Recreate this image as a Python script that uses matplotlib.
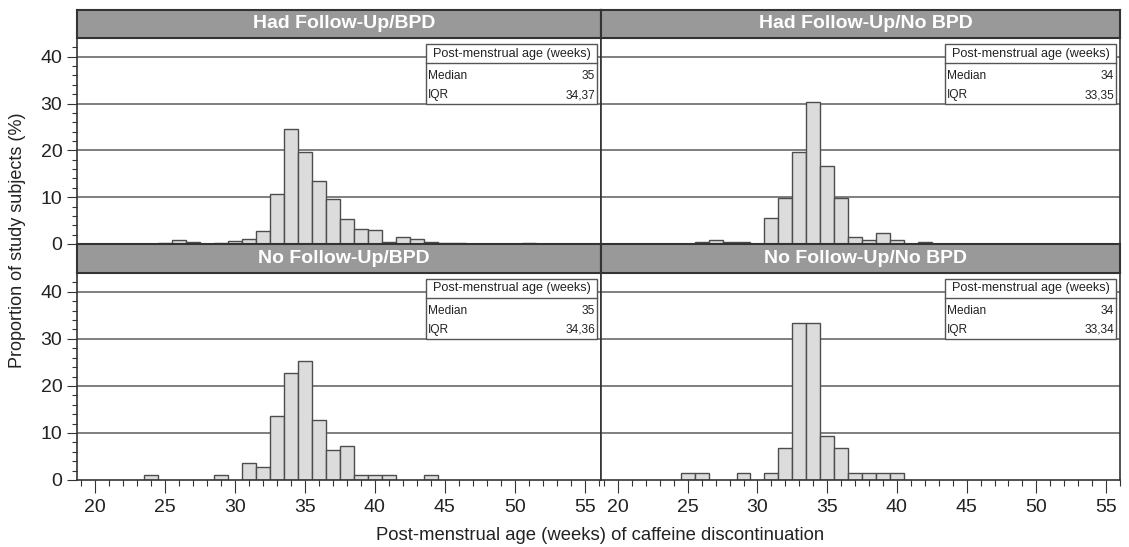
#recreates the caffeine discontinuation histograms (4 panels)

import matplotlib
matplotlib.use('Agg')
import numpy as np
from matplotlib import pyplot as plt
from matplotlib.patches import Rectangle

plt.rcParams['font.family'] = ['Liberation Sans', 'DejaVu Sans']

# data: % of subjects per week of post-menstrual age
weeks = np.arange(24, 52)
had_fu_bpd = [0, 0.2, 0.8, 0.5, 0, 0.2, 0.7, 1.0, 2.8, 10.6, 24.5, 19.6, 13.5, 9.6,
              5.3, 3.3, 3.0, 0.5, 1.6, 1.0, 0.5, 0.2, 0.2, 0, 0, 0, 0, 0.2]
had_fu_no_bpd = [0, 0, 0.5, 0.9, 0.5, 0.5, 0, 5.6, 9.9, 19.6, 30.3, 16.7, 9.9, 1.4,
                 0.9, 2.3, 0.9, 0, 0.5, 0, 0, 0, 0, 0, 0, 0, 0, 0]
no_fu_bpd = [1.0, 0, 0, 0, 0, 1.0, 0, 3.7, 2.8, 13.6, 22.7, 25.4, 12.7, 6.3,
             7.3, 1.0, 1.0, 1.0, 0, 0, 1.0, 0, 0, 0, 0, 0, 0, 0]
no_fu_no_bpd = [0, 1.4, 1.4, 0, 0, 1.4, 0, 1.4, 6.7, 33.4, 33.4, 9.4, 6.7, 1.4,
                1.4, 1.4, 1.4, 0, 0, 0, 0, 0, 0, 0, 0, 0, 0, 0]

titles = ['Had Follow-Up/BPD', 'Had Follow-Up/No BPD', 'No Follow-Up/BPD', 'No Follow-Up/No BPD']
medians = ['35', '34', '35', '34']
iqrs = ['34,37', '33,35', '34,36', '33,34']

W, H = 1129, 547


def box(x0, y0, x1, y1):
    # pixel box (top-left origin) -> figure fraction rect
    return [x0 / W, 1 - y1 / H, (x1 - x0) / W, (y1 - y0) / H]


panels = [(77, 38, 601, 244), (601, 38, 1120, 244), (77, 273, 601, 480), (601, 273, 1120, 480)]
strips = [(77, 10, 601, 38), (601, 10, 1120, 38), (77, 244, 601, 273), (601, 244, 1120, 273)]
xlims = [(18.74, 56.14), (18.78, 55.71), (18.74, 56.14), (18.78, 55.71)]
series = [had_fu_bpd, had_fu_no_bpd, no_fu_bpd, no_fu_no_bpd]

fig = plt.figure(figsize=(11.29, 5.47), dpi=100)

for i in range(4):
    px0, py0, px1, py1 = panels[i]
    ax = fig.add_axes(box(*panels[i]))
    vals = np.array(series[i])
    keep = vals > 0
    ax.bar(weeks[keep], vals[keep], width=1.0, color='#dcdcdc', edgecolor='#4d4d4d',
           linewidth=1.0, zorder=2)
    ax.set_xlim(*xlims[i])
    ax.set_ylim(0, 44)
    for g in [10, 20, 30, 40]:
        ax.axhline(g, color='#6a6a6a', linewidth=1.2, zorder=1)
    for s in ax.spines.values():
        s.set_color('#333333')
        s.set_linewidth(1.2)

    left = i % 2 == 0
    bottom = i >= 2
    ax.set_yticks([0, 10, 20, 30, 40])
    ax.set_yticks(np.arange(0, 44, 2), minor=True)
    ax.set_xticks(np.arange(20, 56, 5))
    ax.set_xticks(np.arange(19, 57), minor=True)
    ax.tick_params(axis='y', which='major', direction='out', length=7.5, width=0.8,
                   colors='#333333', labelsize=14, pad=3, labelcolor='#222222',
                   left=left, labelleft=left)
    ax.tick_params(axis='y', which='minor', direction='out', length=3.8, width=0.8,
                   colors='#333333', left=left)
    ax.tick_params(axis='x', which='major', direction='out', length=9, width=0.8,
                   colors='#333333', labelsize=14, pad=5, labelcolor='#222222',
                   bottom=bottom, labelbottom=bottom)
    ax.tick_params(axis='x', which='minor', direction='out', length=4.5, width=0.8,
                   colors='#333333', bottom=bottom)

    # median / IQR box in the upper right
    pw, ph = px1 - px0, py1 - py0
    tr = 1 - 4 / pw
    tl = tr - 171 / pw
    tt = 1 - 6 / ph
    tm = tt - 19 / ph
    tb = tt - 60 / ph
    ax.add_patch(Rectangle((tl, tb), tr - tl, tt - tb, transform=ax.transAxes,
                           facecolor='white', edgecolor='#555555', linewidth=1.0, zorder=5))
    ax.plot([tl, tr], [tm, tm], transform=ax.transAxes, color='#555555', linewidth=1.0, zorder=6)
    ax.text((tl + tr) / 2, (tt + tm) / 2, 'Post-menstrual age (weeks)', transform=ax.transAxes,
            ha='center', va='center', fontsize=9.1, color='#222222', zorder=7)
    r1 = tm - 13 / ph
    r2 = tm - 32 / ph
    ax.text(tl + 2 / pw, r1, 'Median', transform=ax.transAxes, ha='left', va='center',
            fontsize=8.6, color='#222222', zorder=7)
    ax.text(tr - 2 / pw, r1, medians[i], transform=ax.transAxes, ha='right', va='center',
            fontsize=8.6, color='#222222', zorder=7)
    ax.text(tl + 2 / pw, r2, 'IQR', transform=ax.transAxes, ha='left', va='center',
            fontsize=8.6, color='#222222', zorder=7)
    ax.text(tr - 2 / pw, r2, iqrs[i], transform=ax.transAxes, ha='right', va='center',
            fontsize=8.6, color='#222222', zorder=7)

    # strip header
    sax = fig.add_axes(box(*strips[i]))
    sax.set_facecolor('#999999')
    sax.set_xticks([])
    sax.set_yticks([])
    for s in sax.spines.values():
        s.set_color('#333333')
        s.set_linewidth(1.5)
    sax.text(0.51, 0.5, titles[i], transform=sax.transAxes, ha='center', va='center',
             fontsize=14, fontweight='bold', color='white')

fig.text(18 / W, 1 - 240 / H, 'Proportion of study subjects (%)', rotation=90,
         ha='center', va='center', fontsize=13, color='#222222')
fig.text(600 / W, 1 - 535 / H, 'Post-menstrual age (weeks) of caffeine discontinuation',
         ha='center', va='center', fontsize=13.3, color='#222222')

fig.savefig('out.png', dpi=100)
